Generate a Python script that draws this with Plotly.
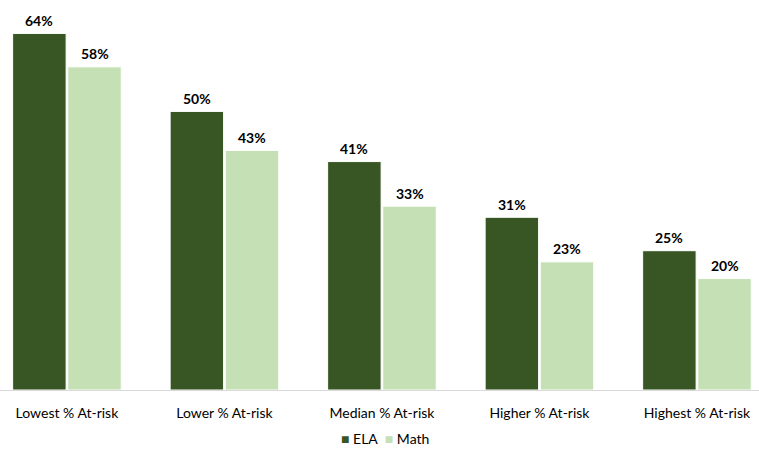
import plotly.graph_objects as go

categories = ["Lowest % At-risk", "Lower % At-risk", "Median % At-risk",
              "Higher % At-risk", "Highest % At-risk"]
ela = [64, 50, 41, 31, 25]
math = [58, 43, 33, 23, 20]

ELA_COLOR = "#375623"
MATH_COLOR = "#C5E0B4"
FONT = "Lato, 'Open Sans', sans-serif"

fig = go.Figure()
fig.add_trace(go.Bar(name="ELA", x=categories, y=ela,
                     marker=dict(color=ELA_COLOR, line=dict(color="white", width=1))))
fig.add_trace(go.Bar(name="Math", x=categories, y=math,
                     marker=dict(color=MATH_COLOR, line=dict(color="white", width=1))))

# value labels above each bar
cat_px = 759 / 4.819
bar_half = cat_px * (1 - 0.3) / 4
for vals, sign in ((ela, -1), (math, 1)):
    for c, v in zip(categories, vals):
        fig.add_annotation(x=c, y=v, text=f"<b>{v}%</b>", showarrow=False,
                           xshift=sign * bar_half, yshift=13,
                           font=dict(family=FONT, size=14, color="#000000"))

# compact legend below the axis
legend_text = (f'<span style="color:{ELA_COLOR}">■</span> ELA&#8194;'
               f'<span style="color:{MATH_COLOR}">■</span> Math')
fig.add_annotation(xref="paper", yref="paper", x=0.507, y=-0.1256,
                   xanchor="center", yanchor="middle", showarrow=False,
                   text=legend_text, font=dict(family=FONT, size=14, color="#000000"))

fig.update_layout(
    width=759, height=449,
    margin=dict(l=0, r=0, t=0, b=59, autoexpand=False),
    plot_bgcolor="white", paper_bgcolor="white",
    barmode="group", bargap=0.3, bargroupgap=0.03,
    font=dict(family=FONT, size=14, color="#000000"),
    showlegend=False,
    xaxis=dict(range=[-0.425, 4.394], showline=True, linecolor="#D9D9D9", linewidth=1,
               ticks="", ticklabelstandoff=10,
               tickfont=dict(family=FONT, size=14, color="#000000")),
    yaxis=dict(range=[0, 70], visible=False, showgrid=False),
)

fig.write_html("out.html")
